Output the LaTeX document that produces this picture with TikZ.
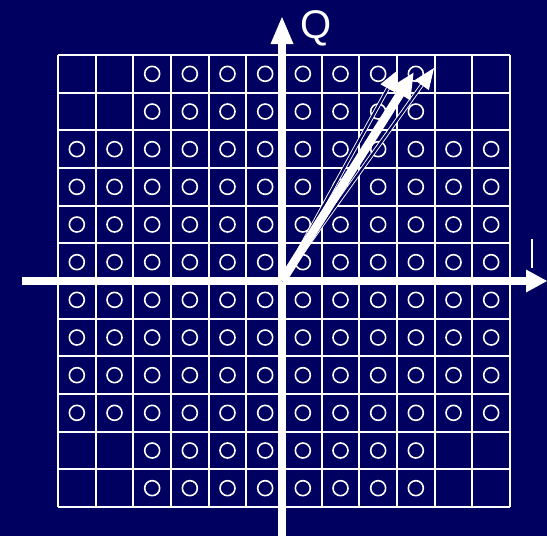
\documentclass[tikz,border=0pt]{standalone}
\usepackage{fontspec}
\setmainfont{Liberation Sans}
\usetikzlibrary{arrows.meta}
\definecolor{navy}{RGB}{0,0,96}
\begin{document}
\begin{tikzpicture}[x=1pt,y=-1pt,
  gridline/.style={white,line width=2.2pt},
  dot/.style={circle,draw=white,line width=1.6pt,minimum size=15pt,inner sep=0pt},
  axis/.style={white,line width=8pt},
  axishead/.style={fill=white},
  vec/.style={white,line width=8.5pt,-{Triangle[width=22pt,length=26pt]}},
  thinvec/.style={white,line width=0.9pt,double=navy,double distance=2.2pt,-{Triangle[width=17pt,length=21pt]}},
  lbl/.style={white,font=\fontsize{40}{40}\selectfont,inner sep=0pt}]
\fill[navy] (0,0) rectangle (547,536);
\useasboundingbox (0,0) rectangle (547,536);
\def\cs{37.667}
\foreach \k in {0,...,12}{
  \draw[gridline] ({58+\k*\cs},55) -- ({58+\k*\cs},507);
  \draw[gridline] (58,{55+\k*\cs}) -- (510,{55+\k*\cs});
}
\foreach \r in {0,...,11}{
  \foreach \c in {0,...,11}{
    \pgfmathtruncatemacro{\skip}{((\r<2 || \r>9) && (\c<2 || \c>9)) ? 1 : 0}
    \ifnum\skip=0
      \node[dot] (d\r-\c) at ({58+(\c+0.5)*\cs},{55+(\r+0.5)*\cs}) {};
    \fi
  }
}
\coordinate (o) at (282,281);
\coordinate (ybot) at (282,536);
\coordinate (ytop) at (282,17);
\coordinate (yhead) at (282,44);
\coordinate (xleft) at (22,281);
\coordinate (xright) at (547,281);
\coordinate (xhead) at (526,281);
\draw[axis] (ybot) -- (yhead);
\fill[axishead] (ytop) -- ([xshift=-11.5pt]yhead) -- ([xshift=11.5pt]yhead) -- cycle;
\draw[axis] (xleft) -- (xhead);
\fill[axishead] (xright) -- ([yshift=-11.5pt]xhead) -- ([yshift=11.5pt]xhead) -- cycle;
\node[lbl] (q) at (316,28) {Q};
\coordinate (itop) at (532,239);
\coordinate (ibot) at (532,268);
\draw[white,line width=2pt] (itop) -- (ibot);
\coordinate (v1) at (398,70);
\coordinate (v2) at (414,72);
\coordinate (v3) at (434,68);
\draw[thinvec] (o) -- (v1);
\draw[thinvec] (o) -- (v3);
\draw[vec] (o) -- (v2);
\end{tikzpicture}
\end{document}
